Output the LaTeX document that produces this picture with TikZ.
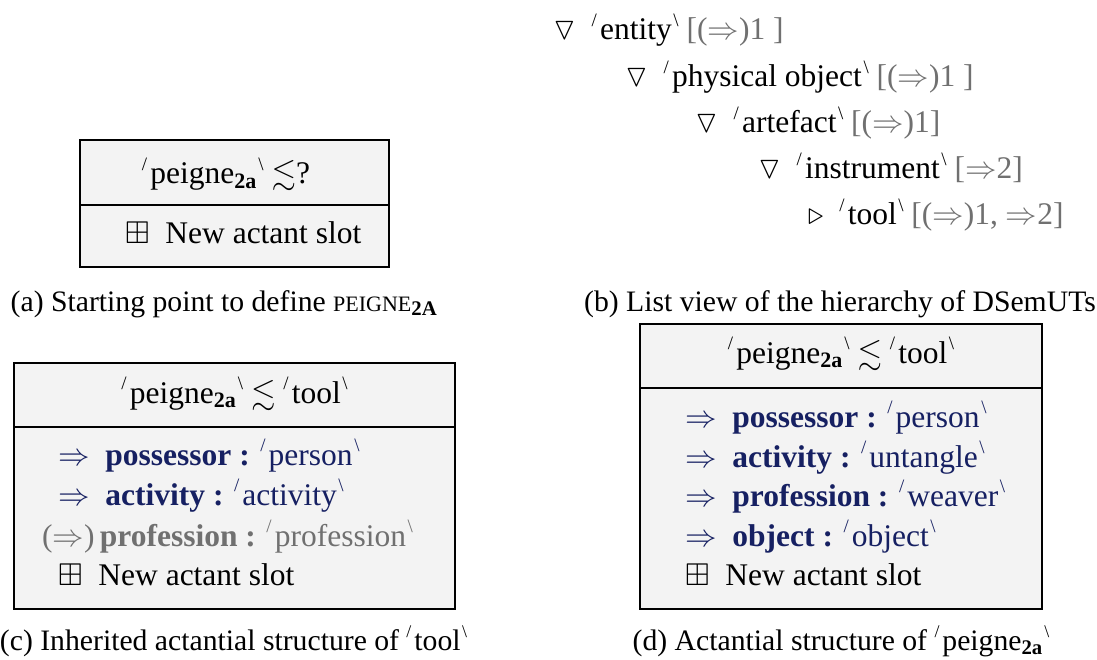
\RequirePackage{fix-cm}
\documentclass[tikz,border=0pt]{standalone}
\usepackage{amssymb}
\DeclareFontFamily{U}{msa}{}
\DeclareFontShape{U}{msa}{m}{n}{<-> msam10}{}
\usepackage{graphicx}
\usepackage{fontspec}
\setmainfont{Liberation Serif}
\definecolor{actblue}{RGB}{22,32,98}
\definecolor{optgray}{RGB}{112,112,112}
\definecolor{boxfill}{RGB}{243,243,243}
\newcommand{\sem}[1]{\raisebox{.42em}{\scalebox{.6}{/}}\kern.1em#1\kern.05em\raisebox{.42em}{\scalebox{.6}{\textbackslash}}}
\newcommand{\peigne}{peigne\textsubscript{\textbf{2a}}}
\newcommand{\newslot}{$\boxplus$\enspace New actant slot}
\begin{document}
\begin{tikzpicture}[x=1pt,y=-1pt,
  frame/.style={draw, fill=boxfill, line width=1.3pt},
  head/.style={anchor=base, inner sep=0pt, font=\fontsize{31.5}{38}\selectfont},
  slot/.style={anchor=base west, inner sep=0pt, font=\fontsize{31.5}{38}\selectfont},
  capt/.style={anchor=base, inner sep=0pt, font=\fontsize{29.7}{36}\selectfont}]
\useasboundingbox (0,0) rectangle (1097,660);
% (a) starting point
\draw[frame] (80,140) rectangle (389,205);
\draw[frame] (80,205) rectangle (389,267);
\node[head] (headA) at (226,184) {\sem{\peigne} $\lesssim$?};
\node[slot] (newA) at (125,244) {\newslot};
\node[capt] (captA) at (224,311) {(a) Starting point to define {\fontsize{22}{26}\selectfont PEIGNE}\textsubscript{\textbf{2A}}};
% (b) list of the hierarchy
\foreach \x/\y/\sym/\word/\tag/\i in {553/40/\triangledown/entity/{[($\Rightarrow$)1 ]}/1,
    625/87/\triangledown/physical object/{[($\Rightarrow$)1 ]}/2,
    695/133/\triangledown/artefact/{[($\Rightarrow$)1]}/3,
    758/179/\triangledown/instrument/{[$\Rightarrow$2]}/4,
    808/225/\triangleright/tool/{[($\Rightarrow$)1, $\Rightarrow$2]}/5} {
  \node[slot] (type\i) at (\x,\y) {$\sym$\enspace\sem{\word} \textcolor{optgray}{\tag}};
}
\node[capt] (captB) at (840,311) {(b) List view of the hierarchy of DSemUTs};
% (c) inherited structure
\draw[frame] (14,363) rectangle (455,427);
\draw[frame] (14,427) rectangle (455,609);
\node[head] (headC) at (234.5,403) {\sem{\peigne} $\lesssim$ \sem{tool}};
\node[slot, actblue] (possC) at (58,465) {$\Rightarrow$\enspace\textbf{possessor :} \sem{person}};
\node[slot, actblue] (actC) at (58,505) {$\Rightarrow$\enspace\textbf{activity :} \sem{activity}};
\node[slot, optgray] (profC) at (42,546) {($\Rightarrow$)\,\textbf{profession :} \sem{profession}};
\node[slot] (newC) at (58,585) {\newslot};
\node[capt] (captC) at (233.5,650) {(c) Inherited actantial structure of \sem{tool}};
% (d) final structure
\draw[frame] (640,324) rectangle (1042,388);
\draw[frame] (640,388) rectangle (1042,609);
\node[head] (headD) at (841,363) {\sem{\peigne} $\lesssim$ \sem{tool}};
\node[slot, actblue] (possD) at (685,427) {$\Rightarrow$\enspace\textbf{possessor :} \sem{person}};
\node[slot, actblue] (actD) at (685,467) {$\Rightarrow$\enspace\textbf{activity :} \sem{untangle}};
\node[slot, actblue] (profD) at (685,506) {$\Rightarrow$\enspace\textbf{profession :} \sem{weaver}};
\node[slot, actblue] (objD) at (685,546) {$\Rightarrow$\enspace\textbf{object :} \sem{object}};
\node[slot] (newD) at (685,585) {\newslot};
\node[capt] (captD) at (841,650) {(d) Actantial structure of \sem{\peigne}};
\end{tikzpicture}
\end{document}
